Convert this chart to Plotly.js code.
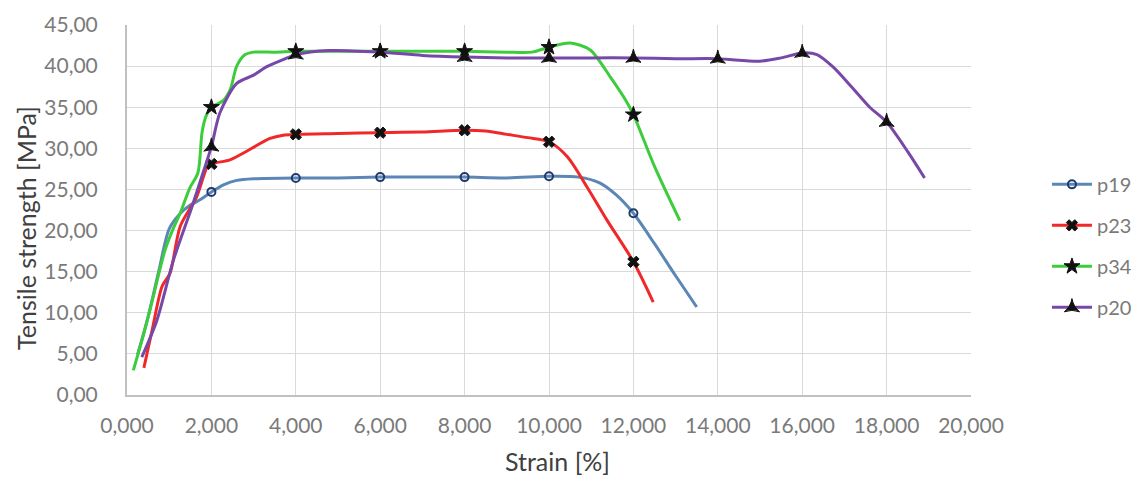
<!DOCTYPE html>
<html>
<head>
<meta charset="utf-8">
<script src="https://cdn.plot.ly/plotly-3.0.1.min.js"></script>
<style>html,body{margin:0;padding:0;background:#fff;}#chart{width:1144px;height:478px;}</style>
</head>
<body>
<div id="chart"></div>
<script>
// Series data (strain %, tensile strength MPa)
const p19_x = [0.25, 0.5, 0.75, 1.0, 1.25, 1.5, 1.75, 2, 2.3, 2.6, 3, 4, 5, 6, 7, 8, 9, 10, 10.7, 11.2, 11.6, 12, 12.5, 13, 13.5];
const p19_y = [4.9, 9.5, 15.0, 20.2, 22.0, 23.1, 23.8, 24.7, 25.6, 26.1, 26.3, 26.4, 26.4, 26.5, 26.5, 26.5, 26.4, 26.6, 26.5, 25.8, 24.3, 22.1, 18.4, 14.5, 10.7];

const p23_x = [0.4, 0.6, 0.83, 1.02, 1.26, 1.65, 1.9, 2, 2.44, 2.75, 3.39, 3.7, 4, 5, 6, 7, 8, 8.5, 9, 9.5, 10, 10.43, 10.9, 11.37, 12, 12.47];
const p23_y = [3.3, 8.0, 13.2, 14.8, 20.5, 24.1, 27.7, 28.1, 28.6, 29.4, 31.2, 31.6, 31.7, 31.8, 31.9, 32.0, 32.2, 32.1, 31.7, 31.3, 30.8, 29.0, 25.3, 21.3, 16.2, 11.3];

const p34_x = [0.15, 0.4, 0.6, 0.9, 1.1, 1.26, 1.49, 1.68, 1.78, 1.88, 2, 2.28, 2.45, 2.6, 2.8, 3.0, 3.5, 4, 5, 6, 7, 8, 9, 9.6, 10, 10.5, 10.97, 11.45, 11.8, 12, 12.5, 13.1];
const p34_y = [3.0, 7.5, 11.5, 17.6, 20.3, 22.1, 25.2, 27.0, 32.0, 34.0, 35.0, 35.8, 37.2, 40.0, 41.4, 41.7, 41.7, 41.8, 41.8, 41.8, 41.8, 41.8, 41.7, 41.7, 42.3, 42.8, 42.0, 38.7, 36.0, 34.1, 27.8, 21.2];

const p20_x = [0.35, 0.71, 1.1, 1.54, 1.8, 2, 2.2, 2.6, 3.0, 3.3, 3.7, 4, 4.8, 6, 7, 8, 9, 10, 11, 12, 13, 14, 15, 15.5, 16, 16.35, 16.73, 17.2, 17.6, 18, 18.5, 18.9];
const p20_y = [4.6, 9.1, 16.4, 22.9, 27.0, 30.2, 34.3, 37.9, 38.9, 39.9, 40.8, 41.4, 41.9, 41.7, 41.3, 41.1, 41.0, 41.0, 41.0, 41.0, 40.9, 40.9, 40.6, 41.0, 41.6, 41.4, 39.9, 37.3, 35.0, 33.2, 29.6, 26.4];

const xTickVals = [0, 2, 4, 6, 8, 10, 12, 14, 16, 18, 20];
const yTickVals = [0, 5, 10, 15, 20, 25, 30, 35, 40, 45];

const seriesNames = ['p19', 'p23', 'p34', 'p20'];
const seriesX = [p19_x, p23_x, p34_x, p20_x];
const seriesY = [p19_y, p23_y, p34_y, p20_y];
const lineColors = ['#5b86b6', '#f02828', '#3ccc3c', '#7748a8'];
const markerSymbols = ['circle-open', 'x', 'star', 'star-triangle-up'];
const markerColors = ['#1f3a6b', '#111111', '#111111', '#111111'];
const markerSizes = [8, 10, 12, 11];

const traces = [];
seriesNames.forEach((name, i) => {
  const xs = seriesX[i], ys = seriesY[i];
  const mx = [], my = [];
  xs.forEach((x, k) => { if (Number.isInteger(x) && x % 2 === 0) { mx.push(x); my.push(ys[k]); } });
  const marker = {
    symbol: markerSymbols[i], size: markerSizes[i], color: markerColors[i],
    line: {color: markerColors[i], width: i === 0 ? 2 : 1}
  };
  traces.push({
    x: xs, y: ys, type: 'scatter', mode: 'lines', name: name, legendgroup: name,
    showlegend: false, hoverinfo: 'skip',
    line: {color: lineColors[i], width: 3, shape: 'spline', smoothing: 0.8}
  });
  traces.push({
    x: mx, y: my, type: 'scatter', mode: 'markers', name: name, legendgroup: name,
    showlegend: false, marker: marker
  });
  traces.push({
    x: [null], y: [null], type: 'scatter', mode: 'lines+markers', name: name, legendgroup: name,
    showlegend: true, line: {color: lineColors[i], width: 3}, marker: marker
  });
});

const fam = 'Lato, "Open Sans", sans-serif';
const tickFont = {family: fam, size: 21, color: '#7a7a7a'};
const titleFont = {family: fam, size: 25, color: '#404040'};

const layout = {
  width: 1144, height: 478,
  margin: {l: 127, r: 173, t: 25, b: 83, pad: 0, autoexpand: false},
  paper_bgcolor: '#ffffff', plot_bgcolor: '#ffffff',
  separators: ', ',
  showlegend: true,
  xaxis: {
    range: [0, 20], tickvals: xTickVals, tickformat: '.3f', automargin: false,
    showgrid: true, gridcolor: '#d9d9d9', gridwidth: 1,
    showline: true, linecolor: '#c0c0c0', linewidth: 2,
    zeroline: false, ticks: '', tickfont: tickFont, ticklabelstandoff: 11
  },
  yaxis: {
    range: [0, 45], tickvals: yTickVals, tickformat: '.2f', automargin: false,
    showgrid: true, gridcolor: '#d9d9d9', gridwidth: 1,
    showline: true, linecolor: '#c0c0c0', linewidth: 2,
    zeroline: false, ticks: '', tickfont: tickFont, ticklabelstandoff: 23
  },
  annotations: [
    {text: 'Strain [%]', xref: 'paper', yref: 'paper', x: 0.5095, y: -0.178,
     xanchor: 'center', yanchor: 'middle', showarrow: false, font: titleFont},
    {text: 'Tensile strength [MPa]', xref: 'paper', yref: 'paper', x: -0.1197, y: 0.4514,
     xanchor: 'center', yanchor: 'middle', textangle: -90, showarrow: false, font: titleFont}
  ],
  legend: {
    x: 1.09, xanchor: 'left', y: 0.622, yanchor: 'top',
    traceorder: 'grouped', tracegroupgap: 12,
    font: {family: fam, size: 20, color: '#7a7a7a'},
    bgcolor: 'rgba(0,0,0,0)', itemwidth: 40
  }
};

Plotly.newPlot('chart', traces, layout, {displayModeBar: false, staticPlot: true});
</script>
</body>
</html>
